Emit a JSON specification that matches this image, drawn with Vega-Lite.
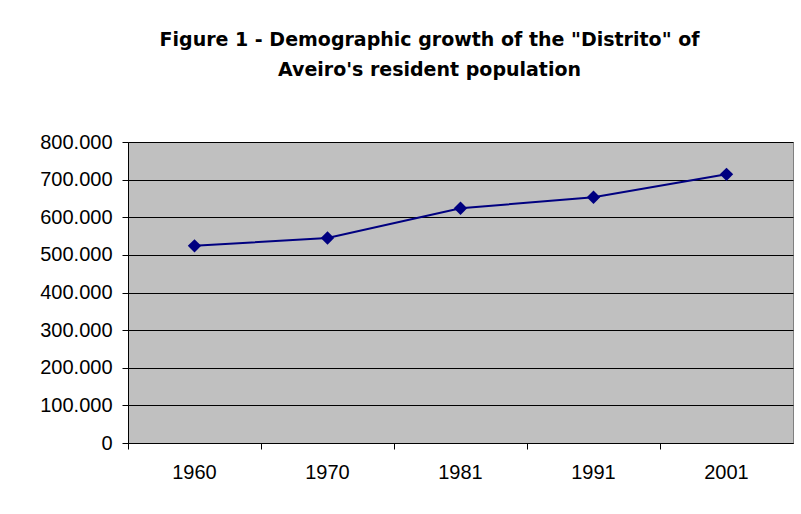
{
  "$schema": "https://vega.github.io/schema/vega-lite/v6.json",
  "autosize": {"type": "none"},
  "padding": {"left": 128, "top": 142, "right": 8, "bottom": 71},
  "width": 665,
  "height": 301,
  "background": "#ffffff",
  "title": {
    "text": ["Figure 1 - Demographic growth of the \"Distrito\" of", "Aveiro's resident population"],
    "anchor": "middle",
    "font": "DejaVu Sans",
    "fontSize": 19,
    "fontWeight": "bold",
    "color": "#000000",
    "baseline": "bottom",
    "lineHeight": 30,
    "offset": 33,
    "dx": -31
  },
  "data": {
    "values": [
      {"Year": "1960", "Population": 524000},
      {"Year": "1970", "Population": 545000},
      {"Year": "1981", "Population": 624000},
      {"Year": "1991", "Population": 653000},
      {"Year": "2001", "Population": 714000}
    ]
  },
  "encoding": {
    "x": {
      "field": "Year",
      "type": "ordinal",
      "scale": {"type": "band", "paddingInner": 0, "paddingOuter": 0},
      "axis": {
        "title": null,
        "labelAngle": 0,
        "bandPosition": 0,
        "labelFont": "Liberation Sans",
        "labelFontSize": 20,
        "labelColor": "#000000",
        "labelPadding": 13,
        "tickColor": "#000000",
        "tickSize": 6,
        "domainColor": "#000000",
        "grid": false
      }
    },
    "y": {
      "field": "Population",
      "type": "quantitative",
      "scale": {"domain": [0, 800000], "nice": false, "zero": true},
      "axis": {
        "title": null,
        "values": [0, 100000, 200000, 300000, 400000, 500000, 600000, 700000, 800000],
        "format": ",d",
        "labelFont": "Liberation Sans",
        "labelFontSize": 20,
        "labelColor": "#000000",
        "labelPadding": 10,
        "tickColor": "#000000",
        "tickSize": 6,
        "domainColor": "#000000",
        "grid": true,
        "gridColor": "#000000",
        "gridOpacity": 1,
        "gridWidth": 1
      }
    }
  },
  "layer": [
    {
      "mark": {"type": "line", "color": "#000080", "strokeWidth": 2}
    },
    {
      "mark": {"type": "point", "shape": "diamond", "filled": true, "color": "#000080", "size": 180, "opacity": 1}
    }
  ],
  "config": {
    "locale": {
      "number": {"decimal": ",", "thousands": ".", "grouping": [3], "currency": ["", " €"]}
    },
    "view": {"fill": "#c0c0c0", "stroke": "#808080", "strokeWidth": 1}
  }
}
